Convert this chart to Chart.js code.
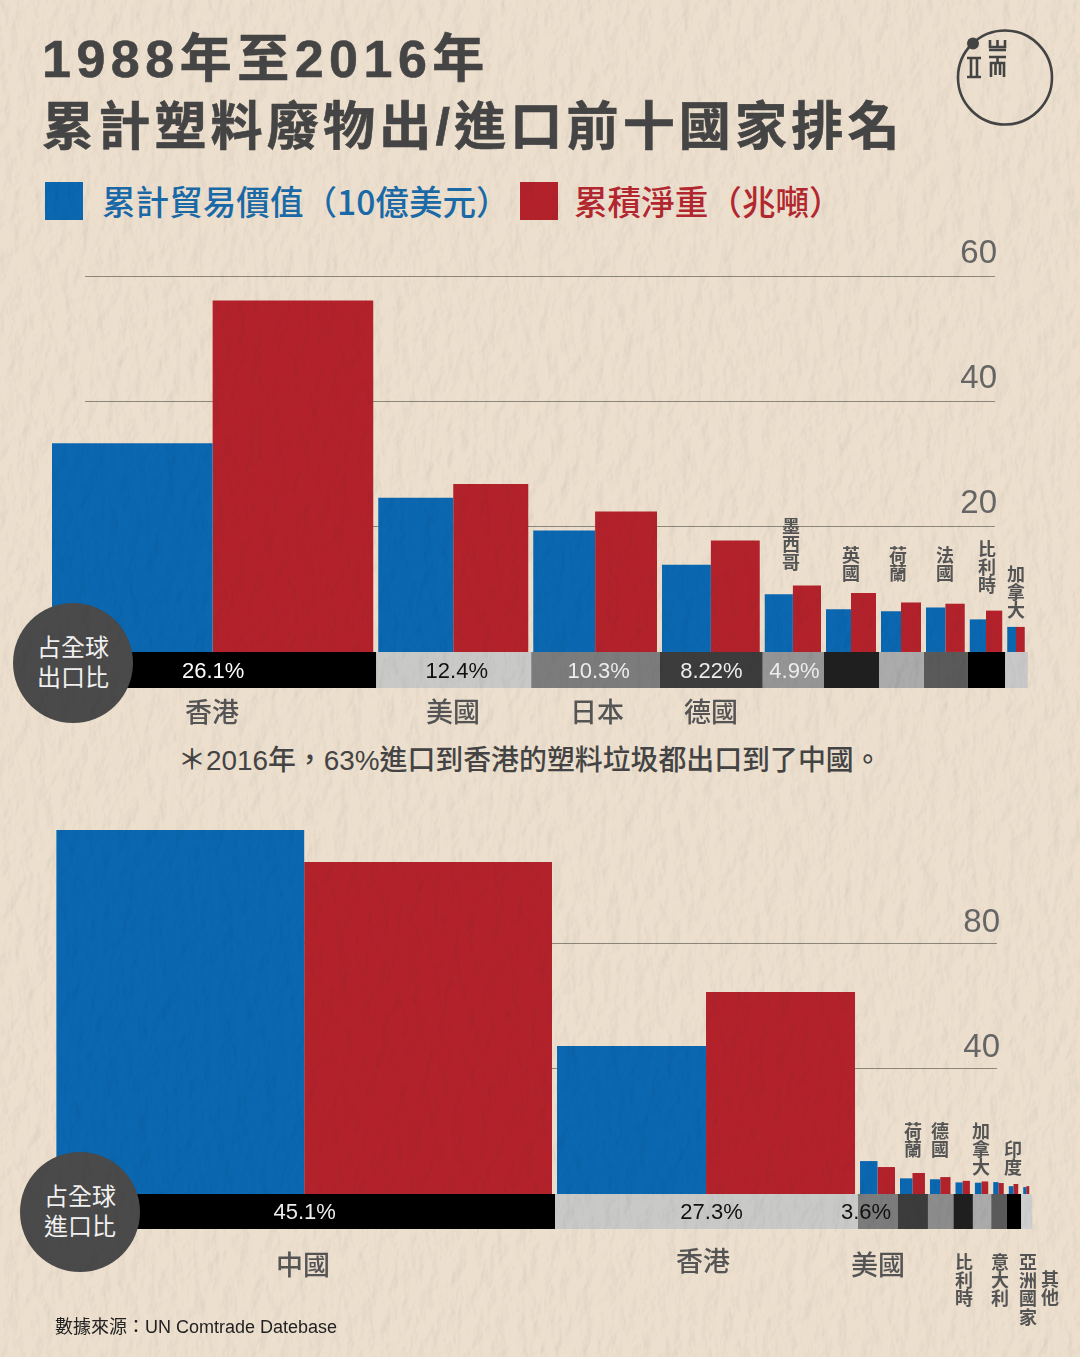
<!DOCTYPE html>
<html lang="zh-Hant">
<head>
<meta charset="utf-8">
<title>累計塑料廢物出/進口前十國家排名</title>
<script src="https://cdn.jsdelivr.net/npm/chart.js@4"></script>
<style>
  html, body { margin: 0; padding: 0; }
  body { width: 1080px; height: 1357px; position: relative; overflow: hidden; background: #ecdfce;
         font-family: "Noto Sans CJK TC", "Noto Sans", sans-serif; color: #444; }
  canvas { position: absolute; left: 0; }
  #paper { position: absolute; left: 0; top: 0; pointer-events: none; mix-blend-mode: multiply; z-index: 5; }
  .abs { position: absolute; white-space: nowrap; line-height: 1; }
  #t1, #t2 { left: 42px; font-family: "Liberation Sans", "Noto Sans CJK TC"; font-size: 52px; font-weight: 700; letter-spacing: 4.2px; color: #454545;
             -webkit-text-stroke: 0.6px #454545; }
  #t1 { top: 33px; letter-spacing: 5.5px; } #t2 { top: 101px; }
  .swatch { position: absolute; width: 38px; height: 38px; top: 182px; }
  .legend { top: 184px; font-size: 33.6px; font-weight: 500; }
  #note { left: 178px; top: 747px; font-family: "Liberation Sans", "Noto Sans CJK TC"; font-size: 27.9px; font-weight: 500; color: #444; }
  #source { left: 55px; top: 1318px; font-size: 18px; color: #222; font-family: "Liberation Sans", "Noto Sans CJK TC"; }
  .badge { position: absolute; width: 120px; height: 120px; border-radius: 50%; background: #4a4a4a; color: #f2f2f2;
           text-align: center; font-size: 24px; line-height: 30px; z-index: 3; }
  .badge span { display: block; padding-top: 28px; }
  #logo { position: absolute; left: 950px; top: 22px; }
</style>
</head>
<body>
<div class="abs" id="t1">1988年至2016年</div>
<div class="abs" id="t2">累計塑料廢物出/進口前十國家排名</div>

<div class="swatch" style="left:45px;background:#0a67b0"></div>
<div class="abs legend" style="left:102px;color:#1a6aa8">累計貿易價值（10億美元）</div>
<div class="swatch" style="left:520px;background:#b3222b"></div>
<div class="abs legend" style="left:574px;color:#b3272f">累積淨重（兆噸）</div>

<svg id="logo" width="110" height="110" viewBox="950 22 110 110" fill="none" stroke="#444" stroke-width="2.6">
  <circle cx="1005" cy="77.5" r="47"/>
  <circle cx="973" cy="43.5" r="6" fill="#444" stroke="none"/>
  <path d="M967 58h14M967 77h14M971 58v19M977 58v19"/>
  <path d="M990 40v7h15v-7M997.5 40v7M989 50h17M989 57h17M997.5 57v6M991 77v-14h13v14M995.5 63v12M1000 63v12"/>
</svg>

<canvas id="exportChart" width="1080" height="510" style="top:220px"></canvas>
<div class="abs" id="note">＊2016年，63%進口到香港的塑料垃圾都出口到了中國。</div>
<canvas id="importChart" width="1080" height="550" style="top:790px"></canvas>

<div class="badge" style="left:13px;top:603px"><span>占全球<br>出口比</span></div>
<div class="badge" style="left:20px;top:1152px"><span>占全球<br>進口比</span></div>

<div class="abs" id="source">數據來源：UN Comtrade Datebase</div>

<svg id="paper" width="1080" height="1357">
  <filter id="grain" x="0" y="0" width="100%" height="100%">
    <feTurbulence type="fractalNoise" baseFrequency="0.07 0.04" numOctaves="5" seed="7"/>
    <feDiffuseLighting surfaceScale="0.8" lighting-color="#ffffff" diffuseConstant="1.12">
      <feDistantLight azimuth="20" elevation="62"/>
    </feDiffuseLighting>
  </filter>
  <rect width="1080" height="1357" filter="url(#grain)"/>
</svg>

<script>
// 出口：占全球比 + 貿易價值 + 淨重
const exportCountries = ["香港", "美國", "日本", "德國", "墨西哥", "英國", "荷蘭", "法國", "比利時", "加拿大"];
const exportShare = [26.1, 12.4, 10.3, 8.22, 4.9, 4.4, 3.6, 3.5, 3.0, 1.8];
const exportValue = [33.3, 24.6, 19.4, 13.9, 9.2, 6.8, 6.5, 7.1, 5.2, 4.0];
const exportWeight = [56.1, 26.8, 22.4, 17.8, 10.6, 9.4, 7.9, 7.7, 6.6, 4.0];
const exportTicks = [20, 40, 60];
const exportShareText = ["26.1%", "12.4%", "10.3%", "8.22%", "4.9%"];

// 進口
const importCountries = ["中國", "香港", "美國", "荷蘭", "德國", "比利時", "加拿大", "意大利", "亞洲國家", "其他"];
const importShare = [45.1, 27.3, 3.6, 2.7, 2.3, 1.75, 1.65, 1.4, 1.3, 1.0];
const importValue = [116, 47.2, 10.5, 5.0, 4.7, 3.7, 3.6, 3.8, 2.5, 2.2];
const importWeight = [105.8, 64.4, 8.6, 6.7, 5.4, 4.2, 4.0, 3.5, 3.2, 2.5];
const importTicks = [40, 80];
const importShareText = ["45.1%", "27.3%", "3.6%"];

const BLUE = "#0a67b0";
const RED = "#b3222b";
const exportStripColors = ["#000000", "#c9c9c7", "#7c7c7c", "#3c3c3c", "#959595", "#1f1f1f", "#ababab", "#5a5a5a", "#000000", "#c8c8c8"];
const importStripColors = ["#000000", "#c9c9c7", "#7c7c7c", "#3c3c3c", "#8c8c8c", "#1f1f1f", "#ababab", "#5a5a5a", "#000000", "#cfcfcf"];

// 國名の置き場所（ページ座標）: [x, y, 縦書きか]
const exportNamePlace = [
  [212, 712], [453, 712], [597, 712], [711, 712],
  [791, 517, 1], [851, 546, 1], [898, 546, 1], [945, 546, 1], [987, 540, 1], [1016, 565, 1]
];
const importNamePlace = [
  [303, 1265], [703, 1261], [878, 1265],
  [913, 1122, 1], [940, 1122, 1], [964, 1253, 1], [981, 1122, 1], [1000, 1253, 1], [1028, 1253, 1], [1050, 1270, 1]
];
const exportTextNudge = [0, 3, 3, 0, 1];
const importTextNudge = [0, 5, -12];
const exportTextColor = ["#fff", "#111", "#eee", "#eee", "#eee"];
const importTextColor = ["#eee", "#111", "#111"];
// 印度 is not one of the ten named columns' slots, it sits over the 亞洲 bars
const importExtraName = ["印度", 1013, 1140];

function cumulative(arr) {
  const out = [];
  let sum = 0;
  arr.forEach(v => { out.push(sum); sum += v; });
  return out;
}

// 棒の幅を share に合わせて上書きする（マリメッコ風）
const mekkoWidths = {
  id: "mekkoWidths",
  afterDatasetsUpdate(chart) {
    const xs = chart.scales.x;
    chart.data.datasets.forEach((ds, d) => {
      const meta = chart.getDatasetMeta(d);
      meta.data.forEach((el, i) => {
        let a = xs.getPixelForValue(ds.edges[i]);
        let b = xs.getPixelForValue(ds.edges[i] + ds.share[i]);
        if (ds.part !== "cell") {
          a += 2;
          b -= 3;
          const mid = (a + b) / 2;
          if (ds.part === "left") b = mid; else a = mid;
        }
        el.x = (a + b) / 2;
        el.width = b - a;
      });
    });
  }
};

const stripAndNames = {
  id: "stripAndNames",
  afterDraw(chart, args, o) {
    const ctx = chart.ctx;
    const xs = chart.scales.x;
    const ys = chart.scales.y;
    ctx.save();
    ctx.textAlign = "center";
    ctx.textBaseline = "middle";

    // share text in the strip
    ctx.font = '22px "Liberation Sans"';
    const mid = (ys.getPixelForValue(0) + ys.bottom) / 2 + 1.5;
    o.shareText.forEach((t, i) => {
      const x = xs.getPixelForValue(o.edges[i] + o.share[i] / 2) + o.nudge[i];
      ctx.fillStyle = o.textColor[i];
      ctx.fillText(t, x, mid);
    });

    // country names
    ctx.fillStyle = "#555";
    o.names.forEach((name, i) => {
      const p = o.place[i];
      if (p[2]) {
        ctx.font = '700 18px "Noto Sans CJK TC"';
        [...name].forEach((c, k) => ctx.fillText(c, p[0], p[1] - o.top + 9 + k * 18.3));
      } else {
        ctx.font = '500 27px "Noto Sans CJK TC"';
        ctx.fillText(name, p[0], p[1] - o.top);
      }
    });
    if (o.extra) {
      ctx.font = '700 18px "Noto Sans CJK TC"';
      [...o.extra[0]].forEach((c, k) => ctx.fillText(c, o.extra[1], o.extra[2] - o.top + 9 + k * 18.3));
    }
    ctx.restore();
  }
};

function buildChart(id, cfg) {
  const edges = cumulative(cfg.share);
  const point = (v, i) => ({ x: edges[i] + cfg.share[i] / 2, y: v });
  const common = { edges, share: cfg.share, clip: false, borderWidth: 0 };
  return new Chart(document.getElementById(id), {
    type: "bar",
    plugins: [mekkoWidths, stripAndNames],
    data: {
      datasets: [
        { ...common, part: "left", label: "累計貿易價值（10億美元）", backgroundColor: BLUE, data: cfg.value.map(point) },
        { ...common, part: "right", label: "累積淨重（兆噸）", backgroundColor: RED, data: cfg.weight.map(point) },
        { ...common, part: "cell", label: "占全球比", backgroundColor: cfg.stripColors, data: cfg.share.map((s, i) => point([cfg.yMin, 0], i)) }
      ]
    },
    options: {
      responsive: false,
      animation: false,
      layout: { padding: cfg.padding },
      plugins: {
        legend: { display: false },
        tooltip: { enabled: false },
        stripAndNames: {
          edges, share: cfg.share, names: cfg.names, place: cfg.place, shareText: cfg.shareText,
          nudge: cfg.nudge, textColor: cfg.textColor, top: cfg.top, extra: cfg.extra
        }
      },
      scales: {
        x: { type: "linear", display: false, offset: false, min: cfg.xMin, max: cfg.xMax },
        y: {
          position: "right",
          min: cfg.yMin,
          max: cfg.yMax,
          afterBuildTicks: s => { s.ticks = cfg.ticks.map(value => ({ value })); },
          afterFit: s => { s.width = 0; },
          border: { display: false },
          grid: { color: "#8d877a", lineWidth: 1, drawTicks: false },
          ticks: {
            mirror: true,
            padding: cfg.tickPad,
            labelOffset: cfg.tickLift,
            color: "#666",
            font: { family: '"Liberation Sans"', size: 33 }
          }
        }
      }
    }
  });
}

buildChart("exportChart", {
  top: 220,
  names: exportCountries, share: exportShare, value: exportValue, weight: exportWeight,
  ticks: exportTicks, stripColors: exportStripColors, shareText: exportShareText,
  place: exportNamePlace, nudge: exportTextNudge, textColor: exportTextColor,
  padding: { left: 85, right: 85, top: 56, bottom: 42 },
  xMin: 2.8, xMax: 75.6, yMin: -5.75, yMax: 60, tickPad: 2, tickLift: -22.5
});

buildChart("importChart", {
  top: 790,
  names: importCountries, share: importShare, value: importValue, weight: importWeight,
  ticks: importTicks, stripColors: importStripColors, shareText: importShareText,
  place: importNamePlace, nudge: importTextNudge, textColor: importTextColor, extra: importExtraName,
  padding: { left: 85, right: 83, top: 27.5, bottom: 111 },
  xMin: 2.757, xMax: 84.92, yMin: -11.15, yMax: 120, tickPad: 3, tickLift: -20.5
});
</script>
</body>
</html>
